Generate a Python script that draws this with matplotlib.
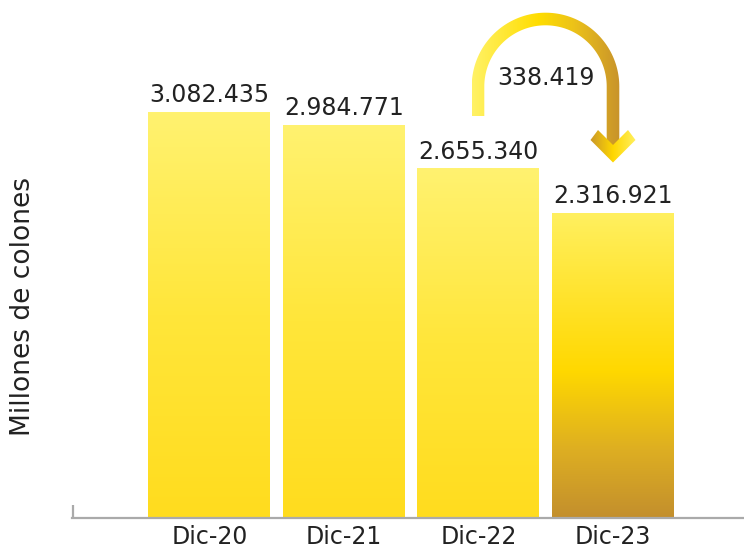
import numpy as np
import matplotlib.pyplot as plt
from matplotlib.path import Path
from matplotlib.patches import PathPatch
from matplotlib.colors import LinearSegmentedColormap

# data
periods = ['Dic-20', 'Dic-21', 'Dic-22', 'Dic-23']
values = [3082435, 2984771, 2655340, 2316921]
drop = values[2] - values[3]

plt.rcParams['font.family'] = ['DejaVu Sans']
text_color = '#222222'

def fmt(v):
    return f'{v:,}'.replace(',', '.')

fig = plt.figure(figsize=(7.44, 5.48), dpi=100)
# axes placed so baseline sits at y=518 px and bars line up with the reference
ax = fig.add_axes([72 / 744, 1 - 518 / 548, 1 - 72 / 744, 518 / 548])

x = np.arange(len(values))
bars = ax.bar(x, values, width=0.907, color='none', edgecolor='none')

yellow_cmap = LinearSegmentedColormap.from_list('y', ['#FFDC1E', '#FFE63A', '#FFF270'])
gold_cmap = LinearSegmentedColormap.from_list(
    'g', [(0, '#C38F2D'), (0.22, '#DDAE22'), (0.48, '#FFD800'), (1, '#FFF060')])
grad = np.linspace(0, 1, 256).reshape(-1, 1)
for i, b in enumerate(bars):
    cmap = gold_cmap if i == len(bars) - 1 else yellow_cmap
    im = ax.imshow(grad, cmap=cmap, origin='lower', aspect='auto',
                   extent=[b.get_x(), b.get_x() + b.get_width(), 0, b.get_height()],
                   zorder=2)
    im.set_clip_path(b)
    ax.annotate(fmt(values[i]), (b.get_x() + b.get_width() / 2, b.get_height()),
                xytext=(0, 7), textcoords='offset points', ha='center',
                va='baseline', fontsize=17, color=text_color)

ax.set_xlim(-1.022, 3.974)
ax.set_ylim(0, 518 * values[0] / 406)
ax.set_xticks(x)
ax.set_xticklabels(periods, fontsize=17, color=text_color)
ax.tick_params(axis='x', length=0, pad=5)
ax.set_yticks([])
for s in ['top', 'right', 'left']:
    ax.spines[s].set_visible(False)
ax.spines['bottom'].set_color('#AAAAAA')
ax.spines['bottom'].set_linewidth(1.6)
ax.plot([-1.018, -1.018], [0, 95000], color='#AAAAAA', lw=1.6,
        clip_on=False, solid_capstyle='butt')
fig.text(23 / 744, 1 - 306 / 548, 'Millones de colones', rotation=90,
         ha='center', va='center', fontsize=19, color=text_color)

# curved arrow overlay in pixel coordinates
ov = fig.add_axes([0, 0, 1, 1], zorder=5)
ov.set_xlim(0, 744)
ov.set_ylim(548, 0)
ov.axis('off')

cx, cy, r, h = 545.5, 86.5, 67.5, 6.3
t = np.linspace(np.pi, 0, 120)
outer = np.column_stack([cx + (r + h) * np.cos(t), cy - (r + h) * np.sin(t)])
inner = np.column_stack([cx + (r - h) * np.cos(t), cy - (r - h) * np.sin(t)])[::-1]
verts = np.vstack([[cx - r - h, 116], outer, [cx + r + h, 146], [cx + r - h, 146],
                   inner, [cx - r + h, 116], [cx - r - h, 116]])
arc_patch = PathPatch(Path(verts, closed=True), facecolor='none', edgecolor='none')
ov.add_patch(arc_patch)
arc_cmap = LinearSegmentedColormap.from_list(
    'a', [(0, '#FFF266'), (0.45, '#FFDD00'), (0.7, '#EBC11A'), (1, '#C8932B')])
hgrad = np.linspace(0, 1, 256).reshape(1, -1)
im = ov.imshow(hgrad, cmap=arc_cmap, aspect='auto', extent=(472, 620, 150, 10), zorder=3)
im.set_clip_path(arc_patch)

# chevron head
chev = np.array([[590.5, 140], [598, 130], [613, 145], [628, 130],
                 [635.5, 140], [613, 162.5], [590.5, 140]])
chev_patch = PathPatch(Path(chev, closed=True), facecolor='none', edgecolor='none')
ov.add_patch(chev_patch)
chev_cmap = LinearSegmentedColormap.from_list(
    'c', [(0, '#C9962A'), (0.5, '#FFD700'), (1, '#FFF060')])
im = ov.imshow(hgrad, cmap=chev_cmap, aspect='auto', extent=(590, 636, 165, 128), zorder=4)
im.set_clip_path(chev_patch)

ov.text(546, 85, fmt(drop), ha='center', va='baseline', fontsize=17, color=text_color)

fig.savefig('out.png', dpi=100)
